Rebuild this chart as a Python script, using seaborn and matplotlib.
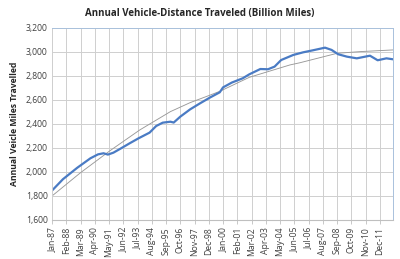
import matplotlib
matplotlib.use("Agg")
import matplotlib.pyplot as plt
import seaborn as sns
import pandas as pd
from matplotlib.ticker import FuncFormatter

# Actual annual VMT (month index from Jan-87, billion miles)
actual_month = [0, 10, 23, 35, 42, 47, 51, 56, 62, 71, 79, 89, 95, 101, 108, 111,
                117, 126, 135, 144, 153, 156, 164, 174, 180, 190, 197, 203, 209,
                220, 229, 238, 249, 255, 261, 269, 278, 290, 297, 305, 311]
actual_vmt = [1845, 1940, 2035, 2114, 2147, 2156, 2145, 2161, 2192, 2240, 2281,
              2328, 2383, 2411, 2419, 2412, 2461, 2522, 2572, 2620, 2664, 2705,
              2745, 2781, 2814, 2858, 2856, 2878, 2933, 2975, 2997, 3014, 3036,
              3017, 2981, 2961, 2947, 2969, 2931, 2947, 2939]

# Trend curve
trend_month = [0, 26, 53, 80, 108, 126, 144, 153, 180, 217, 226, 260, 281, 311]
trend_vmt = [1800, 1994, 2178, 2350, 2503, 2578, 2640, 2672, 2789, 2892, 2910,
             2989, 3003, 3017]

tick_labels = ["Jan-87", "Feb-88", "Mar-89", "Apr-90", "May-91", "Jun-92",
               "Jul-93", "Aug-94", "Sep-95", "Oct-96", "Nov-97", "Dec-98",
               "Jan-00", "Feb-01", "Mar-02", "Apr-03", "May-04", "Jun-05",
               "Jul-06", "Aug-07", "Sep-08", "Oct-09", "Nov-10", "Dec-11"]

sns.set_theme(style="white")
plt.rcParams['font.family'] = ['Open Sans', 'DejaVu Sans']

fig = plt.figure(figsize=(4.0, 2.59), dpi=100)
ax = fig.add_axes([0.13, 0.1506, 0.8525, 0.7414])

df_a = pd.DataFrame({"m": actual_month, "v": actual_vmt})
df_t = pd.DataFrame({"m": trend_month, "v": trend_vmt})
sns.lineplot(data=df_t, x="m", y="v", ax=ax, color="#999999", linewidth=0.65)
sns.lineplot(data=df_a, x="m", y="v", ax=ax, color="#4a7bc4", linewidth=1.6)

ax.set_xlim(0, 311)
ax.set_ylim(1600, 3200)
ax.set_yticks(range(1600, 3201, 200))
ax.yaxis.set_major_formatter(FuncFormatter(lambda v, p: f"{int(v):,}"))
ticks = [13 * i for i in range(len(tick_labels))]
ax.set_xticks(ticks)
ax.set_xticklabels(tick_labels, rotation=90, fontsize=6.2, color="#404040")
ax.tick_params(axis="y", labelsize=6.2, labelcolor="#404040", length=0, pad=3)
ax.tick_params(axis="x", length=3, width=0.6, color="#bfbfbf", direction="out", pad=2, bottom=True)

ax.grid(True, color="#cfcfcf", linewidth=0.7)
ax.set_axisbelow(True)
for s in ["top", "right"]:
    ax.spines[s].set_color("#a9c1dc")
    ax.spines[s].set_linewidth(0.7)
ax.spines["left"].set_color("#cfcfcf")
ax.spines["left"].set_linewidth(0.7)
ax.spines["bottom"].set_color("#bfbfbf")
ax.spines["bottom"].set_linewidth(0.8)

ax.set_xlabel("")
ax.set_ylabel("Annual Veicle Miles Travelled", fontsize=6.2, fontweight="bold", labelpad=5)
fig.suptitle("Annual Vehicle-Distance Traveled (Billion Miles)", fontsize=7.0,
             fontweight="bold", y=0.97, x=0.5)

fig.savefig("out.png", dpi=100)
